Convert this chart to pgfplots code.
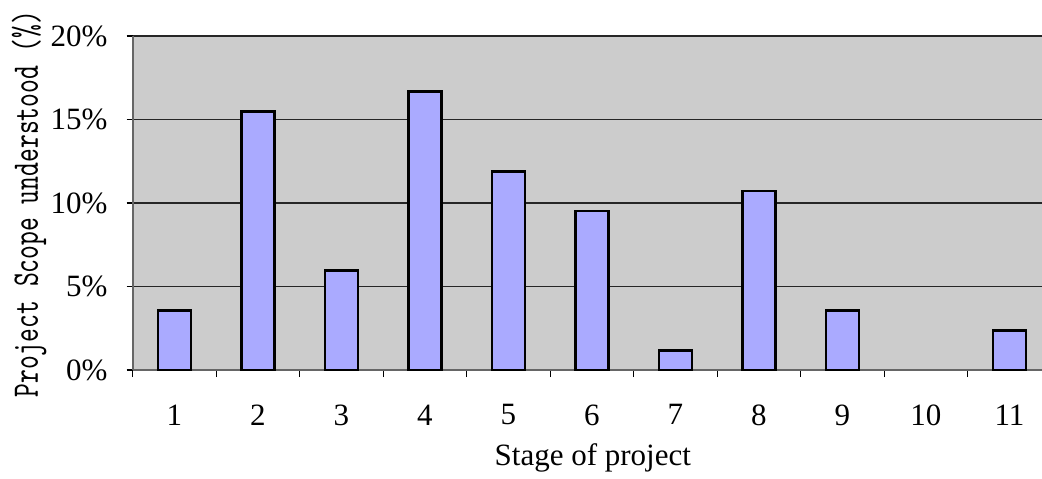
\documentclass[border=0pt]{standalone}
\usepackage{fontspec}
\setmainfont{Liberation Serif}
\newfontfamily\labelfont{lmmono10-regular.otf}[FakeStretch=0.70]
\usepackage{pgfplots}
\pgfplotsset{compat=1.18}
\definecolor{barfill}{RGB}{170,170,255}
\definecolor{plotbg}{RGB}{204,204,204}
\begin{document}
\begin{tikzpicture}
\begin{axis}[
  name=ax,
  scale only axis,
  width=454.65pt, height=167pt,
  xmin=-0.5, xmax=10.39,
  ymin=0, ymax=20,
  axis x line*=bottom, axis y line*=left,
  axis line style={-, draw=black!60, line width=0.9pt},
  axis background/.style={fill=plotbg},
  ybar, bar width=0.395,
  tick align=outside,
  xtick={0,...,10},
  xticklabels={1,2,3,4,5,6,7,8,9,10,11},
  major x tick style={draw=none},
  minor xtick={-0.5,0.5,...,9.5},
  minor x tick style={black, line width=0.6pt},
  minor tick length=3.5pt,
  ytick={0,5,10,15,20},
  yticklabels={0\%,5\%,10\%,15\%,20\%},
  major y tick style={black, line width=0.6pt},
  major tick length=3pt,
  ymajorgrids,
  major grid style={black!85, line width=0.6pt},
  tick label style={font=\fontsize{15.5}{18}\selectfont},
  xticklabel style={yshift=-10.8pt},
  yticklabel style={xshift=-6.15pt},
  xlabel={Stage of project},
  xlabel style={font=\fontsize{15.5}{18}\selectfont,
    at={(axis description cs:0.506,0)}, anchor=north, yshift=-33.3pt},
  ylabel={Project Scope understood (\%)},
  ylabel style={font=\labelfont\fontsize{18.8}{21}\selectfont,
    at={(axis description cs:-0.1140,0.497)}, anchor=center},
]
% share of respondents per stage (stage 10 had none)
\addplot[fill=barfill, draw=black, line width=1.4pt] coordinates {
  (0,3.571) (1,15.476) (2,5.952) (3,16.667) (4,11.905)
  (5,9.524) (6,1.190) (7,10.714) (8,3.571) (10,2.381)
};
\end{axis}
\pgfresetboundingbox
\path[use as bounding box] ([xshift=-66.35pt,yshift=-54pt]ax.south west)
  rectangle ([yshift=18pt]ax.north east);
\end{tikzpicture}
\end{document}
